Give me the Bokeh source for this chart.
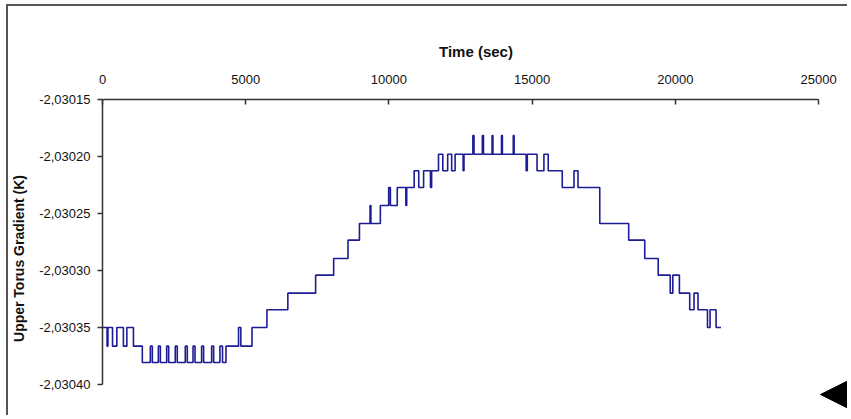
from bokeh.plotting import figure
from bokeh.models import FixedTicker, CustomJSTickFormatter, Range1d, Arrow, NormalHead
from bokeh.embed import file_html
from bokeh.resources import INLINE

# time (sec) of each step change, and the value held from that time on
time_s = [0, 160, 190, 350, 500, 730, 850, 1080, 1390, 1670, 1740, 1950, 2020, 2240, 2310,
          2540, 2610, 2890, 2960, 3160, 3230, 3460, 3530, 3810, 3880, 4100, 4190, 4310,
          4750, 4830, 5220, 5740, 6470, 7440, 8070, 8570, 8970, 9340, 9370, 9700, 9990,
          10050, 10290, 10590, 10620, 10880, 11040, 11210, 11450, 11490, 11730, 11880,
          12050, 12190, 12310, 12590, 12620, 12930, 12970, 13260, 13300, 13600, 13630,
          13930, 13960, 14340, 14370, 14790, 14830, 15170, 15410, 15560, 16050, 16460,
          16600, 17360, 18370, 18930, 19400, 19820, 19910, 20140, 20500, 20650, 20790,
          21120, 21210, 21420, 21590]
gradient_K = [-2.0303500, -2.0303664, -2.0303500, -2.0303664, -2.0303500, -2.0303664,
              -2.0303500, -2.0303664, -2.0303807, -2.0303664, -2.0303807, -2.0303664,
              -2.0303807, -2.0303664, -2.0303807, -2.0303664, -2.0303807, -2.0303664,
              -2.0303807, -2.0303664, -2.0303807, -2.0303664, -2.0303807, -2.0303664,
              -2.0303807, -2.0303664, -2.0303807, -2.0303664, -2.0303500, -2.0303664,
              -2.0303500, -2.0303345, -2.0303199, -2.0303041, -2.0302895, -2.0302734,
              -2.0302588, -2.0302430, -2.0302588, -2.0302430, -2.0302272, -2.0302430,
              -2.0302272, -2.0302430, -2.0302272, -2.0302125, -2.0302272, -2.0302125,
              -2.0302272, -2.0302125, -2.0301980, -2.0302125, -2.0301980, -2.0302125,
              -2.0301980, -2.0302125, -2.0301980, -2.0301816, -2.0301980, -2.0301816,
              -2.0301980, -2.0301816, -2.0301980, -2.0301816, -2.0301980, -2.0301816,
              -2.0301980, -2.0302125, -2.0301980, -2.0302125, -2.0301980, -2.0302125,
              -2.0302272, -2.0302125, -2.0302272, -2.0302588, -2.0302734, -2.0302895,
              -2.0303041, -2.0303199, -2.0303041, -2.0303199, -2.0303345, -2.0303199,
              -2.0303345, -2.0303500, -2.0303345, -2.0303500, -2.0303500]

x_ticks = [0, 5000, 10000, 15000, 20000, 25000]
y_ticks = [-2.03040, -2.03035, -2.03030, -2.03025, -2.03020, -2.03015]

FONT = "Liberation Sans"

# the plotting frame runs on to the right and bottom page edges (axes keep their bounds)
p = figure(width=841, height=411, output_backend="svg", toolbar_location=None,
           x_range=Range1d(0, 26078), y_range=Range1d(-2.0304290, -2.03015),
           x_axis_location="above",
           min_border_left=91, min_border_right=0, min_border_top=93, min_border_bottom=0)
p.styles = {"margin-left": "6px", "margin-top": "4px",
            "border-left": "2px solid #555555", "border-top": "2px solid #555555"}
p.outline_line_color = None
p.xgrid.visible = False
p.ygrid.visible = False
p.background_fill_color = "white"
p.border_fill_color = "white"

p.step(time_s, gradient_K, mode="after", line_color="#1c1c94", line_width=1.6)

xa = p.xaxis[0]
xa.bounds = (x_ticks[0], x_ticks[-1])
xa.ticker = FixedTicker(ticks=x_ticks)
xa.axis_label = "Time (sec)"
xa.axis_label_text_font = FONT
xa.axis_label_text_font_style = "bold"
xa.axis_label_text_font_size = "15px"
xa.axis_label_text_color = "#111111"
xa.axis_label_standoff = 12
xa.major_label_text_font = FONT
xa.major_label_text_font_size = "13px"
xa.major_label_text_color = "#111111"
xa.major_label_standoff = 16
xa.major_tick_in = 5
xa.major_tick_out = 0
xa.minor_tick_in = 0
xa.minor_tick_out = 0
xa.axis_line_width = 1.5
xa.axis_line_color = "#333333"
xa.major_tick_line_width = 1.5
xa.major_tick_line_color = "#333333"

ya = p.yaxis[0]
ya.bounds = (y_ticks[0], y_ticks[-1])
ya.ticker = FixedTicker(ticks=y_ticks)
ya.formatter = CustomJSTickFormatter(code="return tick.toFixed(5).replace('.', ',');")
ya.axis_label = "Upper Torus Gradient (K)"
ya.axis_label_text_font = FONT
ya.axis_label_text_font_style = "bold"
ya.axis_label_text_font_size = "14px"
ya.axis_label_text_color = "#111111"
ya.axis_label_standoff = 9
ya.major_label_text_font = FONT
ya.major_label_text_font_size = "13px"
ya.major_label_text_color = "#111111"
ya.major_label_standoff = 7
ya.major_tick_out = 5
ya.major_tick_in = 0
ya.minor_tick_in = 0
ya.minor_tick_out = 0
ya.axis_line_width = 1.5
ya.axis_line_color = "#333333"
ya.major_tick_line_width = 1.5
ya.major_tick_line_color = "#333333"

# arrow marker at bottom right of the page
p.add_layout(Arrow(x_start=770, y_start=23, x_end=718, y_end=23,
                   start_units="screen", end_units="screen",
                   line_color="black", line_width=1.5,
                   end=NormalHead(size=27, fill_color="black", line_color="black")))

open("out.html", "w").write(file_html(p, INLINE))
